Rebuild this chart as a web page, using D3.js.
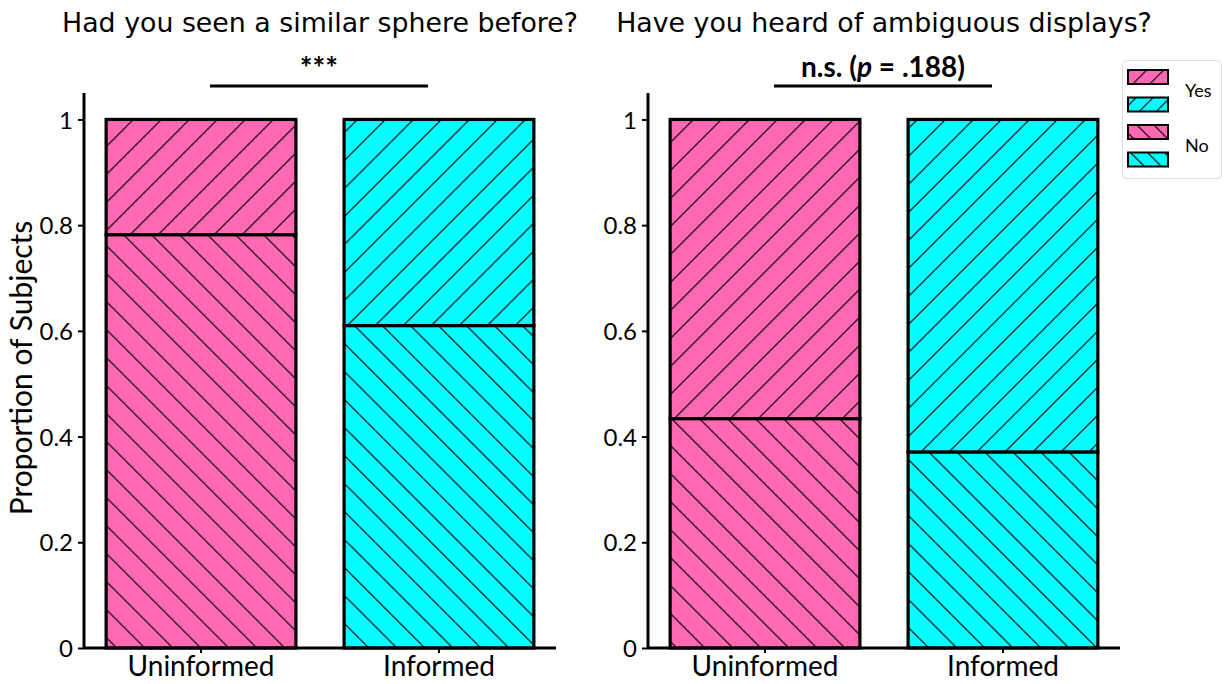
<!DOCTYPE html>
<html>
<head>
<meta charset="utf-8">
<script src="https://cdn.jsdelivr.net/npm/d3@7"></script>
<style>
  body { margin: 0; background: #fff; }
  text { fill: #000; }
</style>
</head>
<body>
<svg width="1225" height="684"></svg>
<script>
// data
var groups = ['Uninformed', 'Informed']
var titles = ['Had you seen a similar sphere before?', 'Have you heard of ambiguous displays?']
var noShare = [[0.782, 0.610], [0.434, 0.371]]   // bottom segment ("No")
var yTicks = [0, 0.2, 0.4, 0.6, 0.8, 1]
var colors = ['#ff69b4', '#00ffff']
var legendLabels = ['Yes', 'No']

var svg = d3.select('svg')
var defs = svg.append('defs')

// hatch patterns: "/" for yes, "\" for no
function hatch(id, angle, gap) {
  var p = defs.append('pattern')
    .attr('id', id)
    .attr('patternUnits', 'userSpaceOnUse')
    .attr('width', gap).attr('height', gap)
    .attr('patternTransform', 'rotate(' + angle + ')')
  p.append('line')
    .attr('x1', 0.5).attr('y1', -1).attr('x2', 0.5).attr('y2', gap + 1)
    .attr('stroke', '#000').attr('stroke-width', 1.3)
}
hatch('yes', 45, 19.8)
hatch('no', -45, 19.8)
hatch('yesS', 45, 12)
hatch('noS', -45, 12)

var y = d3.scaleLinear().domain([0, 1.05]).range([648, 93])

var panels = [84, 648]

panels.forEach(function(x0, k) {
  var g = svg.append('g')

  var x = d3.scaleBand().domain(groups)
    .range([x0, x0 + 472])
    .paddingInner(0.2025).paddingOuter(0.093)

  // bars
  groups.forEach(function(name, i) {
    var v = noShare[k][i]
    var bx = x(name), bw = x.bandwidth()
    var segs = [
      {lo: 0, hi: v, pat: 'no'},
      {lo: v, hi: 1, pat: 'yes'}
    ]
    segs.forEach(function(s) {
      g.append('rect')
        .attr('x', bx).attr('width', bw)
        .attr('y', y(s.hi)).attr('height', y(s.lo) - y(s.hi))
        .attr('fill', colors[i])
      g.append('rect')
        .attr('x', bx).attr('width', bw)
        .attr('y', y(s.hi)).attr('height', y(s.lo) - y(s.hi))
        .attr('fill', 'url(#' + s.pat + ')')
        .attr('stroke', '#000').attr('stroke-width', 3.2)
    })
  })

  // axes
  var ya = g.append('g')
    .attr('transform', 'translate(' + x0 + ',0)')
    .call(d3.axisLeft(y).tickValues(yTicks).tickSize(6).tickPadding(5)
      .tickFormat(function(d) { return String(+d.toFixed(1)) }))
  var xa = g.append('g')
    .attr('transform', 'translate(0,648)')
    .call(d3.axisBottom(x).tickSize(5).tickPadding(1))

  ;[ya, xa].forEach(function(a) {
    a.select('.domain').attr('stroke-width', 3).attr('stroke', '#000')
    a.selectAll('.tick line').attr('stroke-width', 2).attr('stroke', '#000')
    a.selectAll('.tick text').attr('font-family', 'Lato').attr('fill', '#000')
  })
  ya.select('.domain').attr('d', 'M0,' + y(1.05) + 'V648')
  xa.select('.domain').attr('d', 'M' + x0 + ',0H' + (x0 + 472))
  ya.selectAll('.tick text').attr('font-size', 24).attr('dy', '0.36em')
  xa.selectAll('.tick text').attr('font-size', 28).attr('dy', '0.8em')

  // title
  g.append('text')
    .attr('x', x0 + 236).attr('y', 32)
    .attr('text-anchor', 'middle')
    .attr('font-family', 'DejaVu Sans').attr('font-size', 26.8)
    .text(titles[k])

  // significance bracket
  var sx1 = x0 + 126, sx2 = x0 + 344
  g.append('line')
    .attr('x1', sx1).attr('x2', sx2).attr('y1', 86).attr('y2', 86)
    .attr('stroke', '#000').attr('stroke-width', 3)
  var st = g.append('text')
    .attr('x', (sx1 + sx2) / 2)
    .attr('text-anchor', 'middle')
    .attr('font-family', 'Lato').attr('font-weight', 'bold')
  if (k === 0) {
    st.attr('y', 79).attr('font-size', 30).text('***')
  } else {
    st.attr('y', 77).attr('font-size', 28)
    st.append('tspan').text('n.s. (')
    st.append('tspan').attr('font-style', 'italic').text('p')
    st.append('tspan').text(' = .188)')
  }
})

// y label
svg.append('text')
  .attr('transform', 'translate(32,368) rotate(-90)')
  .attr('text-anchor', 'middle')
  .attr('font-family', 'Lato').attr('font-size', 30)
  .text('Proportion of Subjects')

// legend
var lg = svg.append('g').attr('transform', 'translate(1122,60)')
lg.append('rect')
  .attr('x', 0.5).attr('y', 0.5).attr('width', 99).attr('height', 118)
  .attr('rx', 4).attr('fill', '#fff').attr('stroke', '#ddd')
var items = [['yesS', 0], ['yesS', 1], ['noS', 0], ['noS', 1]]
items.forEach(function(it, i) {
  var yy = 10 + i * 27.5
  lg.append('rect').attr('x', 6).attr('y', yy).attr('width', 40).attr('height', 14)
    .attr('fill', colors[it[1]])
  lg.append('rect').attr('x', 6).attr('y', yy).attr('width', 40).attr('height', 14)
    .attr('fill', 'url(#' + it[0] + ')')
    .attr('stroke', '#000').attr('stroke-width', 2)
})
legendLabels.forEach(function(t, i) {
  lg.append('text')
    .attr('x', 63).attr('y', 37 + i * 55)
    .attr('font-family', 'Lato').attr('font-size', 18)
    .text(t)
})
</script>
</body>
</html>
